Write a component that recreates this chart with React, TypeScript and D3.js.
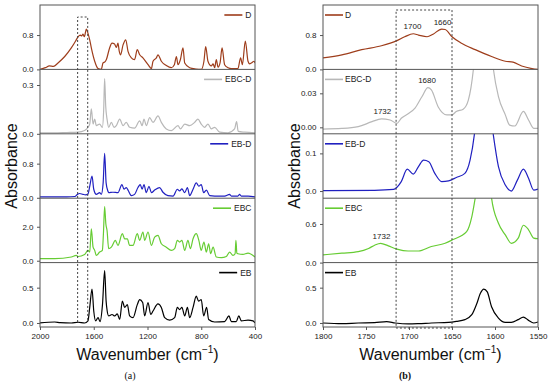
import React, { useEffect, useRef } from 'react';
import * as d3 from 'd3';

type Pt = [number, number];

// series order top to bottom
const seriesNames = ['D', 'EBC-D', 'EB-D', 'EBC', 'EB'];
const seriesColors = ['#9e3d1b', '#b8b8b8', '#2020c0', '#66cc33', '#000000'];

// ---- panel (a): full range spectra, 2000-400 cm-1 ----
const fullD: Pt[] = [
  [2000, 0.0], [1960, 0.04], [1930, 0.08], [1900, 0.07], [1866, 0.15], [1816, 0.3], [1767, 0.5],
  [1735, 0.66], [1717, 0.76], [1700, 0.8], [1690, 0.78], [1680, 0.82], [1670, 0.76], [1655, 0.94],
  [1643, 0.84], [1630, 0.69], [1618, 0.5], [1593, 0.19], [1568, 0.02], [1544, 0.0], [1531, 0.15],
  [1515, 0.18], [1506, 0.23], [1482, 0.5], [1464, 0.61], [1445, 0.59], [1432, 0.51], [1420, 0.61],
  [1410, 0.42], [1400, 0.34], [1382, 0.57], [1362, 0.69], [1345, 0.42], [1320, 0.27], [1296, 0.23],
  [1276, 0.46], [1258, 0.34], [1234, 0.27], [1196, 0.11], [1171, 0.02], [1159, 0.19], [1134, 0.27],
  [1122, 0.34], [1097, 0.19], [1060, 0.09], [1023, 0.04], [1000, 0.11], [985, 0.3], [973, 0.11],
  [955, 0.23], [936, 0.5], [923, 0.15], [886, 0.04], [840, 0.01], [800, 0.0], [780, 0.19],
  [767, 0.53], [750, 0.19], [725, 0.08], [712, 0.13], [700, 0.04], [688, 0.23], [675, 0.05],
  [660, 0.15], [645, 0.5], [626, 0.11], [600, 0.04], [576, 0.02], [527, 0.02], [507, 0.27],
  [494, 0.11], [472, 0.66], [452, 0.19], [440, 0.13], [427, 0.15], [407, 0.19], [400, 0.15],
];

const fullEBCD: Pt[] = [
  [2000, 0.006], [1900, 0.006], [1800, 0.008], [1717, 0.01], [1668, 0.02], [1643, 0.04], [1630, 0.06],
  [1618, 0.153], [1605, 0.06], [1593, 0.09], [1581, 0.05], [1556, 0.06], [1536, 0.04], [1526, 0.15],
  [1519, 0.34], [1511, 0.17], [1501, 0.09], [1489, 0.04], [1469, 0.07], [1449, 0.04], [1432, 0.05],
  [1407, 0.09], [1382, 0.05], [1358, 0.07], [1333, 0.04], [1296, 0.035], [1258, 0.08], [1240, 0.05],
  [1226, 0.09], [1209, 0.05], [1184, 0.1], [1159, 0.07], [1122, 0.11], [1097, 0.07], [1060, 0.03],
  [1023, 0.02], [973, 0.05], [955, 0.03], [923, 0.06], [886, 0.05], [849, 0.07], [825, 0.09],
  [800, 0.06], [775, 0.04], [750, 0.06], [725, 0.03], [700, 0.04], [663, 0.01], [601, 0.006],
  [552, 0.03], [537, 0.075], [525, 0.015], [477, 0.01], [400, 0.006],
];

const fullEBD: Pt[] = [
  [2000, 0.02], [1800, 0.02], [1740, 0.03], [1725, 0.07], [1705, 0.1], [1680, 0.08], [1660, 0.07],
  [1643, 0.09], [1630, 0.27], [1613, 0.51], [1600, 0.2], [1581, 0.08], [1556, 0.12], [1544, 0.08],
  [1530, 0.35], [1519, 1.04], [1508, 0.35], [1495, 0.16], [1489, 0.12], [1457, 0.13], [1420, 0.12],
  [1390, 0.31], [1375, 0.2], [1358, 0.24], [1345, 0.18], [1320, 0.05], [1296, 0.08], [1271, 0.24],
  [1254, 0.31], [1240, 0.2], [1226, 0.31], [1209, 0.12], [1189, 0.27], [1171, 0.12], [1147, 0.18],
  [1110, 0.24], [1085, 0.13], [1048, 0.05], [1010, 0.04], [978, 0.2], [961, 0.16], [944, 0.21],
  [923, 0.12], [903, 0.24], [886, 0.05], [861, 0.2], [837, 0.35], [818, 0.27], [800, 0.31],
  [782, 0.12], [762, 0.18], [737, 0.05], [700, 0.04], [626, 0.04], [589, 0.08], [576, 0.04],
  [527, 0.04], [515, 0.08], [502, 0.04], [452, 0.04], [400, 0.02],
];

const fullEBC: Pt[] = [
  [2000, 0.12], [1891, 0.12], [1767, 0.22], [1730, 0.31], [1717, 0.25], [1668, 0.37], [1643, 0.61],
  [1630, 0.51], [1618, 1.88], [1605, 0.8], [1593, 0.61], [1581, 0.31], [1556, 0.51], [1536, 0.61],
  [1528, 1.59], [1519, 3.19], [1510, 2.18], [1501, 1.78], [1489, 0.71], [1469, 0.8], [1439, 1.2],
  [1420, 0.9], [1387, 1.59], [1370, 1.29], [1350, 1.29], [1333, 0.9], [1308, 0.9], [1276, 1.59],
  [1258, 1.2], [1234, 1.69], [1221, 1.2], [1196, 1.69], [1171, 0.9], [1147, 1.39], [1122, 1.49],
  [1097, 1.0], [1060, 0.8], [1023, 0.61], [998, 0.71], [978, 1.2], [961, 1.1], [944, 1.2],
  [923, 0.61], [899, 1.2], [881, 0.71], [861, 1.29], [837, 1.59], [818, 1.2], [800, 0.61],
  [780, 1.1], [762, 0.51], [745, 1.0], [730, 0.41], [712, 0.8], [688, 0.22], [651, 0.18],
  [613, 0.25], [589, 0.51], [564, 0.31], [548, 0.41], [542, 1.2], [535, 0.45], [527, 0.41],
  [490, 0.37], [452, 0.45], [400, 0.22],
];

const fullEB: Pt[] = [
  [2000, 0.0], [1891, 0.014], [1850, 0.005], [1767, 0.0], [1717, 0.01], [1668, 0.0], [1643, 0.03],
  [1630, 0.22], [1613, 0.48], [1600, 0.17], [1586, 0.03], [1568, 0.075], [1553, 0.02], [1535, 0.26],
  [1519, 0.74], [1508, 0.31], [1500, 0.17], [1489, 0.1], [1464, 0.12], [1444, 0.1], [1425, 0.13],
  [1407, 0.05], [1387, 0.31], [1370, 0.22], [1350, 0.26], [1333, 0.1], [1308, 0.075], [1276, 0.26],
  [1258, 0.33], [1236, 0.29], [1221, 0.1], [1196, 0.29], [1176, 0.12], [1159, 0.17], [1122, 0.27],
  [1097, 0.22], [1072, 0.075], [1035, 0.04], [998, 0.075], [978, 0.22], [961, 0.19], [944, 0.22],
  [923, 0.1], [903, 0.22], [886, 0.075], [861, 0.22], [837, 0.38], [820, 0.31], [800, 0.33],
  [782, 0.1], [760, 0.22], [745, 0.05], [700, 0.014], [626, 0.02], [594, 0.1], [576, 0.02],
  [540, 0.02], [520, 0.1], [502, 0.03], [452, 0.04], [415, 0.03], [400, 0.0],
];

// ---- panel (b): carbonyl region, 1800-1550 cm-1 ----
const zoomD: Pt[] = [
  [1800, 0.27], [1778, 0.34], [1755, 0.46], [1732, 0.55], [1714, 0.67], [1705, 0.76], [1695, 0.83],
  [1689, 0.8], [1679, 0.76], [1672, 0.82], [1662, 0.94], [1658, 0.93], [1650, 0.76], [1639, 0.61],
  [1623, 0.46], [1604, 0.3], [1588, 0.19], [1579, 0.17], [1569, 0.08], [1557, 0.02], [1550, 0.0],
];

const zoomEBCD: Pt[] = [
  [1800, -0.0015], [1778, -0.001], [1759, 0.0006], [1743, 0.005], [1732, 0.0074], [1722, 0.0065],
  [1714, 0.0035], [1709, 0.008], [1701, 0.012], [1693, 0.017], [1685, 0.027], [1678, 0.035],
  [1674, 0.033], [1666, 0.018], [1656, 0.011], [1650, 0.011], [1645, 0.014], [1637, 0.016],
  [1631, 0.024], [1625, 0.052], [1618, 0.12], [1610, 0.12], [1602, 0.052], [1596, 0.027],
  [1588, 0.011], [1583, 0.002], [1577, 0.0012], [1567, 0.014], [1561, 0.0065], [1555, -0.0009],
  [1550, -0.0009],
];

const zoomEBD: Pt[] = [
  [1800, 0.001], [1740, 0.002], [1718, 0.0044], [1714, 0.01], [1709, 0.025], [1702, 0.058],
  [1695, 0.045], [1689, 0.065], [1683, 0.082], [1677, 0.078], [1670, 0.047], [1662, 0.025],
  [1654, 0.027], [1645, 0.036], [1635, 0.047], [1629, 0.082], [1624, 0.15], [1618, 0.3],
  [1610, 0.3], [1602, 0.15], [1596, 0.065], [1588, 0.016], [1581, 0.0], [1574, 0.029],
  [1567, 0.058], [1561, 0.034], [1555, 0.0027], [1550, 0.0053],
];

const zoomEBC: Pt[] = [
  [1800, 0.12], [1778, 0.146], [1759, 0.17], [1747, 0.22], [1740, 0.27], [1733, 0.3], [1724, 0.26],
  [1714, 0.21], [1701, 0.18], [1689, 0.18], [1674, 0.25], [1658, 0.3], [1650, 0.35], [1633, 0.48],
  [1627, 0.71], [1623, 1.0], [1615, 1.6], [1608, 1.6], [1604, 1.0], [1596, 0.61], [1588, 0.43],
  [1581, 0.3], [1573, 0.38], [1567, 0.58], [1561, 0.51], [1555, 0.38], [1550, 0.37],
];

const zoomEB: Pt[] = [
  [1800, 0.0], [1778, -0.01], [1759, 0.0], [1740, 0.005], [1726, 0.019], [1716, 0.0], [1701, -0.014],
  [1689, -0.01], [1674, 0.0], [1654, 0.009], [1645, 0.023], [1635, 0.047], [1627, 0.117],
  [1621, 0.28], [1617, 0.42], [1613, 0.48], [1609, 0.44], [1604, 0.23], [1596, 0.07], [1588, 0.009],
  [1581, 0.009], [1573, 0.047], [1567, 0.084], [1561, 0.037], [1555, 0.0], [1550, 0.014],
];

const yDomainsA: Pt[] = [[0, 1.5], [0, 0.396], [-0.01, 1.5], [-0.11, 3.68], [-0.057, 0.855]];
const yTicksA: number[][] = [[0, 0.8], [0, 0.3], [0, 0.8], [0, 2.0], [0, 0.5]];
const yFormatsA = ['.1f', '.1f', '.1f', '.1f', '.1f'];

const yDomainsB: Pt[] = [[0, 1.5], [-0.0057, 0.0511], [-0.019, 0.152], [0, 1.0], [-0.057, 0.855]];
const yTicksB: number[][] = [[0, 0.8], [0, 0.03], [0, 0.1], [0, 0.6], [0, 0.5]];
const yFormatsB = ['.1f', '.2f', '.1f', '.1f', '.1f'];

const xTicksA = [2000, 1600, 1200, 800, 400];
const xTicksB = [1800, 1750, 1700, 1650, 1600, 1550];

// dashed region [from, to] in cm-1
const boxA: Pt = [1720, 1645];
const boxB: Pt = [1715, 1650];

const peakLabels = [
  { row: 0, wn: 1696, val: 0.83, text: '1700' },
  { row: 0, wn: 1661, val: 0.94, text: '1660' },
  { row: 1, wn: 1679, val: 0.035, text: '1680' },
  { row: 1, wn: 1731, val: 0.0074, text: '1732' },
  { row: 3, wn: 1732, val: 0.3, text: '1732' },
];

const FONT = '"Liberation Sans", Arial, sans-serif';
const TOP = 5;
const BOTTOM = 327;

function drawPanel(svg, opts) {
  const { left, right, xDomain, xTicks, series, yDomains, yTicks, yFormats, legendLeft, id } = opts;
  const rowH = (BOTTOM - TOP) / series.length;
  const x = d3.scaleLinear().domain(xDomain).range([left, right]);
  const g = svg.append('g');
  const yScales = [];

  series.forEach((data, i) => {
    const top = TOP + i * rowH;
    const y = d3.scaleLinear().domain(yDomains[i]).range([top + rowH, top]);
    yScales.push(y);

    g.append('clipPath').attr('id', `${id}-clip-${i}`)
      .append('rect').attr('x', left).attr('y', top).attr('width', right - left).attr('height', rowH);

    const line = d3.line<Pt>().x(d => x(d[0])).y(d => y(d[1])).curve(d3.curveMonotoneX);
    g.append('path')
      .datum(data)
      .attr('clip-path', `url(#${id}-clip-${i})`)
      .attr('fill', 'none')
      .attr('stroke', seriesColors[i])
      .attr('stroke-width', 1.2)
      .attr('d', line);

    const yAxis = g.append('g')
      .attr('transform', `translate(${left},0)`)
      .call(d3.axisLeft(y).tickValues(yTicks[i]).tickSize(3).tickSizeOuter(0).tickFormat(d3.format(yFormats[i])));
    yAxis.select('.domain').remove();
    yAxis.selectAll('line').attr('stroke', '#555');
    yAxis.selectAll('text').attr('font-family', FONT).attr('font-size', 8).attr('fill', '#222').attr('dx', -0.5);

    // legend
    const ly = top + 10;
    if (legendLeft) {
      g.append('line').attr('x1', left + 2).attr('x2', left + 20).attr('y1', ly).attr('y2', ly)
        .attr('stroke', seriesColors[i]).attr('stroke-width', 1.6);
      g.append('text').attr('x', left + 22).attr('y', ly + 3).attr('font-family', FONT)
        .attr('font-size', 8.5).attr('fill', '#222').text(seriesNames[i]);
    } else {
      const t = g.append('text').attr('x', right - 3.5).attr('y', ly + 3).attr('text-anchor', 'end')
        .attr('font-family', FONT).attr('font-size', 8.5).attr('fill', '#222').text(seriesNames[i]);
      const w = (t.node() as SVGTextElement).getComputedTextLength();
      const tx = right - 3.5 - w - 3;
      g.append('line').attr('x1', tx - 18).attr('x2', tx).attr('y1', ly).attr('y2', ly)
        .attr('stroke', seriesColors[i]).attr('stroke-width', 1.6);
    }

    if (i > 0) {
      g.append('line').attr('x1', left).attr('x2', right).attr('y1', top).attr('y2', top)
        .attr('stroke', '#555').attr('stroke-width', 1);
    }
  });

  g.append('rect').attr('x', left).attr('y', TOP).attr('width', right - left).attr('height', BOTTOM - TOP)
    .attr('fill', 'none').attr('stroke', '#555').attr('stroke-width', 1);

  const xAxis = g.append('g')
    .attr('transform', `translate(0,${BOTTOM})`)
    .call(d3.axisBottom(x).tickValues(xTicks).tickSize(3).tickSizeOuter(0).tickFormat(d3.format('d')));
  xAxis.select('.domain').remove();
  xAxis.selectAll('line').attr('stroke', '#555');
  xAxis.selectAll('text').attr('font-family', FONT).attr('font-size', 8).attr('fill', '#222');

  // axis titles
  const cx = (left + right) / 2;
  const title = g.append('text').attr('x', cx).attr('y', 360).attr('text-anchor', 'middle')
    .attr('font-family', FONT).attr('font-size', 16).attr('fill', '#111');
  title.append('tspan').text('Wavenumber (cm');
  title.append('tspan').attr('font-size', 10).attr('dy', -7).text('\u22121');
  title.append('tspan').attr('dy', 7).text(')');

  g.append('text')
    .attr('transform', `translate(${left - 23},166) rotate(-90)`)
    .attr('text-anchor', 'middle').attr('font-family', FONT).attr('font-size', 16).attr('fill', '#111')
    .text('Absorbance');

  return { x, yScales, g };
}

export default function App() {
  const ref = useRef<SVGSVGElement>(null);

  useEffect(() => {
    const svg = d3.select(ref.current);
    svg.selectAll('*').remove();

    const a = drawPanel(svg, {
      id: 'pa', left: 40, right: 255, xDomain: [2000, 400], xTicks: xTicksA,
      series: [fullD, fullEBCD, fullEBD, fullEBC, fullEB],
      yDomains: yDomainsA, yTicks: yTicksA, yFormats: yFormatsA, legendLeft: false,
    });
    const b = drawPanel(svg, {
      id: 'pb', left: 323, right: 538, xDomain: [1800, 1550], xTicks: xTicksB,
      series: [zoomD, zoomEBCD, zoomEBD, zoomEBC, zoomEB],
      yDomains: yDomainsB, yTicks: yTicksB, yFormats: yFormatsB, legendLeft: true,
    });

    // dashed region in (a): open at bottom
    const ax0 = a.x(boxA[0]);
    const ax1 = a.x(boxA[1]);
    a.g.append('path')
      .attr('d', `M${ax0},322V17H${ax1}V322`)
      .attr('fill', 'none').attr('stroke', '#444').attr('stroke-width', 1).attr('stroke-dasharray', '2,2');

    // dashed region in (b)
    const bx0 = b.x(boxB[0]);
    const bx1 = b.x(boxB[1]);
    b.g.append('rect')
      .attr('x', bx0).attr('y', 10).attr('width', bx1 - bx0).attr('height', BOTTOM + 1 - 10)
      .attr('fill', 'none').attr('stroke', '#444').attr('stroke-width', 1).attr('stroke-dasharray', '2,2');

    peakLabels.forEach(p => {
      b.g.append('text')
        .attr('x', b.x(p.wn)).attr('y', b.yScales[p.row](p.val) - 4.5)
        .attr('text-anchor', 'middle').attr('font-family', FONT).attr('font-size', 8).attr('fill', '#222')
        .text(p.text);
    });

    svg.append('text').attr('x', 130).attr('y', 379).attr('text-anchor', 'middle')
      .attr('font-family', '"Liberation Serif", "Times New Roman", serif').attr('font-size', 10)
      .attr('fill', '#111').text('(a)');
    svg.append('text').attr('x', 405).attr('y', 379).attr('text-anchor', 'middle')
      .attr('font-family', '"Liberation Serif", "Times New Roman", serif').attr('font-size', 10)
      .attr('font-weight', 'bold').attr('fill', '#111').text('(b)');
  }, []);

  return (
    <svg ref={ref} width={550} height={386}
      style={{ position: 'absolute', left: 0, top: 0, background: '#fff' }} />
  );
}
